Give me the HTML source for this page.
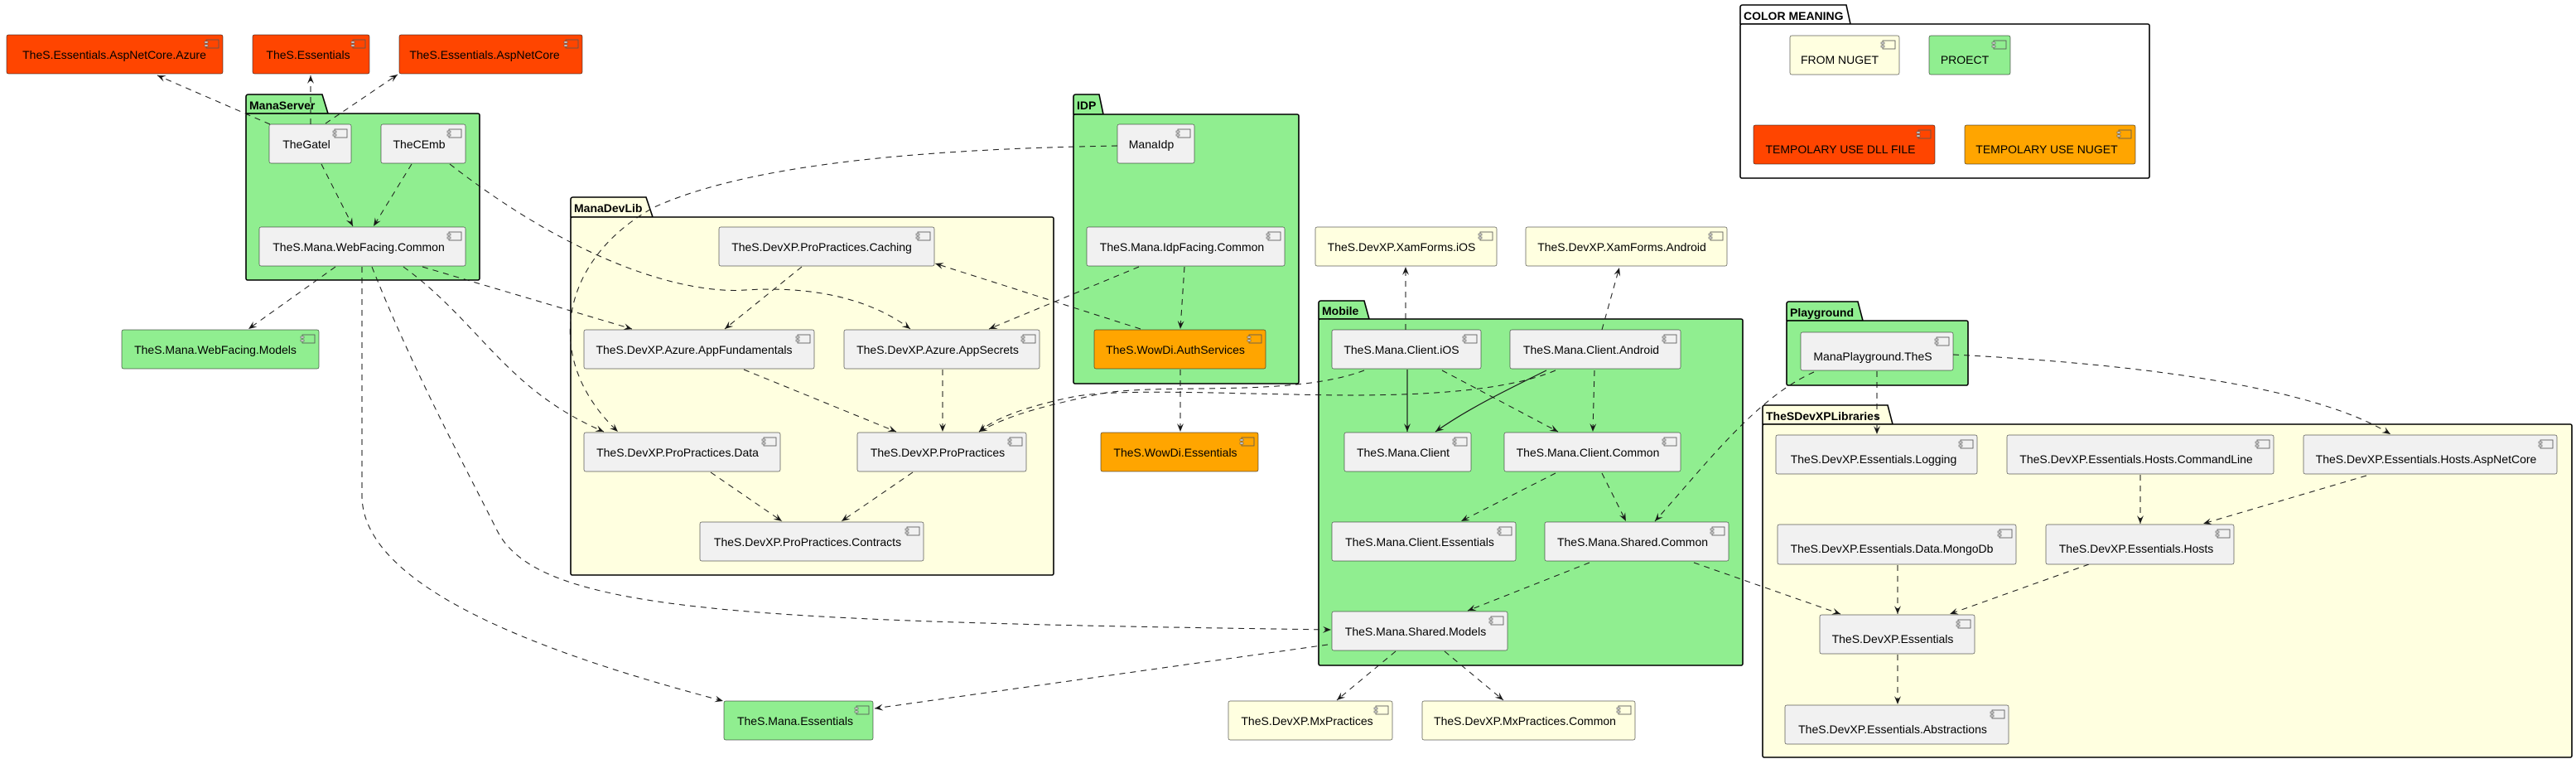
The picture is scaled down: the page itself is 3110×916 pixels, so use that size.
<!DOCTYPE html>
<html><head><meta charset="utf-8"><style>
html,body{margin:0;padding:0;background:#fff;}
svg{display:block;}
text{font-family:"Liberation Sans",Arial,sans-serif;font-size:14px;fill:#000;}
.t{font-weight:bold;font-size:14px;}
.e{fill:none;stroke:#181818;stroke-width:1;stroke-dasharray:7,6;marker-end:url(#ah);}
.s{fill:none;stroke:#181818;stroke-width:1.2;marker-end:url(#ah);}
.c{stroke:#181818;stroke-width:0.5;}
.pk{stroke:#000;stroke-width:1.6;}
</style></head><body>
<svg width="3110" height="916" viewBox="0 0 3110 916" xmlns="http://www.w3.org/2000/svg">
<defs>
<marker id="ah" markerWidth="12" markerHeight="10" refX="10" refY="5" orient="auto" markerUnits="userSpaceOnUse">
<polygon points="0,1 10,5 0,9 4,5" fill="#181818"/>
</marker>
<g id="ic"><rect x="0" y="0" width="15" height="10" fill="none" stroke="#555" stroke-width="0.8"/><rect x="-2" y="2" width="4" height="2" fill="#eee" stroke="#555" stroke-width="0.6"/><rect x="-2" y="6" width="4" height="2" fill="#eee" stroke="#555" stroke-width="0.6"/></g>
</defs>

<!-- packages -->
<g>
<path class="pk" fill="#90EE90" d="M297,137 V117 Q297,114 300,114 H389 L396,137 Z"/>
<rect class="pk" x="297" y="137" width="282" height="201" rx="2" fill="#90EE90"/>
<text class="t" x="301" y="132">ManaServer</text>

<path class="pk" fill="#FFFFE0" d="M689,262 V241 Q689,238 692,238 H780 L788,262 Z"/>
<rect class="pk" x="689" y="262" width="583" height="432" rx="2" fill="#FFFFE0"/>
<text class="t" x="693" y="256">ManaDevLib</text>

<path class="pk" fill="#90EE90" d="M1296,138 V117 Q1296,114 1299,114 H1327 L1332,138 Z"/>
<rect class="pk" x="1296" y="138" width="272" height="325" rx="2" fill="#90EE90"/>
<text class="t" x="1300" y="132">IDP</text>

<path class="pk" fill="#90EE90" d="M1592,385 V366 Q1592,363 1595,363 H1647 L1653,385 Z"/>
<rect class="pk" x="1592" y="385" width="512" height="418" rx="2" fill="#90EE90"/>
<text class="t" x="1596" y="380">Mobile</text>

<path class="pk" fill="#fff" d="M2101,29 V9 Q2101,6 2104,6 H2229 L2234,29 Z"/>
<rect class="pk" x="2101" y="29" width="494" height="186" rx="2" fill="#fff"/>
<text class="t" x="2105" y="24">COLOR MEANING</text>

<path class="pk" fill="#90EE90" d="M2157,387 V367 Q2157,364 2160,364 H2243 L2249,387 Z"/>
<rect class="pk" x="2157" y="387" width="219" height="78" rx="2" fill="#90EE90"/>
<text class="t" x="2161" y="382">Playground</text>

<path class="pk" fill="#FFFFE0" d="M2128,512 V492 Q2128,489 2131,489 H2279 L2285,512 Z"/>
<rect class="pk" x="2128" y="512" width="977" height="402" rx="2" fill="#FFFFE0"/>
<text class="t" x="2132" y="507">TheSDevXPLibraries</text>
</g>

<!-- edges -->
<g>
<path class="e" d="M326,150 L190,91"/>
<path class="e" d="M375,150 L375,91"/>
<path class="e" d="M393,149 L480,90"/>
<path class="e" d="M388,198 L426,273"/>
<path class="e" d="M497,198 L451,273"/>
<path class="e" d="M543,198 C700,320 830,355 900,350 C980,345 1050,360 1099,397"/>
<path class="e" d="M1349,176 C1100,180 900,200 790,250 C680,310 650,430 746,521"/>
<path class="e" d="M405,322 L300,397"/>
<path class="e" d="M437,322 L437,600 C440,720 700,800 873,846"/>
<path class="e" d="M449,322 C500,450 560,560 600,640 C650,740 900,750 1607,760"/>
<path class="e" d="M487,322 C580,390 610,470 729,521"/>
<path class="e" d="M510,322 L763,397"/>
<path class="e" d="M968,322 L875,397"/>
<path class="e" d="M1377,397 L1129,318"/>
<path class="e" d="M1375,322 L1194,397"/>
<path class="e" d="M1430,322 L1425,397"/>
<path class="e" d="M898,446 L1082,521"/>
<path class="e" d="M1138,446 L1138,521"/>
<path class="e" d="M858,570 L944,629"/>
<path class="e" d="M1102,570 L1016,629"/>
<path class="e" d="M1425,446 L1425,521"/>
<path class="e" d="M1647,447 C1560,480 1400,462 1330,475 C1260,490 1220,500 1182,521"/>
<path class="e" d="M1878,447 C1800,480 1650,478 1560,476 C1450,474 1350,470 1300,478 C1240,490 1200,505 1182,521"/>
<path class="e" d="M1603,778 L1056,855"/>
<path class="e" d="M1685,786 L1614,845"/>
<path class="e" d="M1744,786 L1815,845"/>
<path class="e" d="M1697,398 L1697,322"/>
<path class="e" d="M1934,398 L1955,323"/>
<path class="s" d="M1699,446 L1699,521"/>
<path class="s" d="M1867,447 C1810,475 1770,495 1733,521"/>
<path class="e" d="M1741,447 L1881,521"/>
<path class="e" d="M1925,447 L1923,521"/>
<path class="e" d="M1878,571 L1764,629"/>
<path class="e" d="M1934,571 L1963,629"/>
<path class="e" d="M2190,449 C2120,480 2060,560 1998,629"/>
<path class="e" d="M1919,679 L1772,737"/>
<path class="e" d="M2045,679 L2222,741"/>
<path class="e" d="M2266,448 L2266,524"/>
<path class="e" d="M2358,428 C2600,440 2800,470 2886,524"/>
<path class="e" d="M2584,573 L2584,632"/>
<path class="e" d="M2857,574 L2660,632"/>
<path class="e" d="M2291,682 L2291,741"/>
<path class="e" d="M2522,681 L2354,741"/>
<path class="e" d="M2291,790 L2291,850"/>
</g>

<!-- components -->
<g>
<rect class="c" x="8" y="42" width="261" height="47" rx="2" fill="#FF4500" stroke="#b03000"/><use href="#ic" x="249" y="48"/><text x="138" y="71" text-anchor="middle">TheS.Essentials.AspNetCore.Azure</text>
<rect class="c" x="305" y="42" width="141" height="47" rx="2" fill="#FF4500"/><use href="#ic" x="426" y="48"/><text x="372" y="71" text-anchor="middle">TheS.Essentials</text>
<rect class="c" x="482" y="42" width="221" height="47" rx="2" fill="#FF4500"/><use href="#ic" x="683" y="48"/><text x="585" y="71" text-anchor="middle">TheS.Essentials.AspNetCore</text>

<rect class="c" x="325" y="150" width="99" height="47" rx="2" fill="#F1F1F1"/><use href="#ic" x="404" y="156"/><text x="370" y="179" text-anchor="middle">TheGatel</text>
<rect class="c" x="460" y="150" width="102" height="47" rx="2" fill="#F1F1F1"/><use href="#ic" x="542" y="156"/><text x="506" y="179" text-anchor="middle">TheCEmb</text>
<rect class="c" x="313" y="274" width="249" height="47" rx="2" fill="#F1F1F1"/><use href="#ic" x="542" y="280"/><text x="433" y="303" text-anchor="middle">TheS.Mana.WebFacing.Common</text>
<rect class="c" x="147" y="398" width="238" height="47" rx="2" fill="#90EE90"/><use href="#ic" x="365" y="404"/><text x="260" y="427" text-anchor="middle">TheS.Mana.WebFacing.Models</text>

<rect class="c" x="868" y="274" width="260" height="47" rx="2" fill="#F1F1F1"/><use href="#ic" x="1108" y="280"/><text x="992" y="303" text-anchor="middle">TheS.DevXP.ProPractices.Caching</text>
<rect class="c" x="705" y="398" width="278" height="47" rx="2" fill="#F1F1F1"/><use href="#ic" x="963" y="404"/><text x="838" y="427" text-anchor="middle">TheS.DevXP.Azure.AppFundamentals</text>
<rect class="c" x="1019" y="398" width="236" height="47" rx="2" fill="#F1F1F1"/><use href="#ic" x="1235" y="404"/><text x="1132" y="427" text-anchor="middle">TheS.DevXP.Azure.AppSecrets</text>
<rect class="c" x="705" y="522" width="237" height="47" rx="2" fill="#F1F1F1"/><use href="#ic" x="922" y="528"/><text x="818" y="551" text-anchor="middle">TheS.DevXP.ProPractices.Data</text>
<rect class="c" x="1035" y="522" width="204" height="47" rx="2" fill="#F1F1F1"/><use href="#ic" x="1219" y="528"/><text x="1132" y="551" text-anchor="middle">TheS.DevXP.ProPractices</text>
<rect class="c" x="845" y="630" width="270" height="47" rx="2" fill="#F1F1F1"/><use href="#ic" x="1095" y="636"/><text x="975" y="659" text-anchor="middle">TheS.DevXP.ProPractices.Contracts</text>

<rect class="c" x="1349" y="150" width="93" height="47" rx="2" fill="#F1F1F1"/><use href="#ic" x="1422" y="156"/><text x="1390" y="179" text-anchor="middle">ManaIdp</text>
<rect class="c" x="1312" y="274" width="239" height="47" rx="2" fill="#F1F1F1"/><use href="#ic" x="1531" y="280"/><text x="1427" y="303" text-anchor="middle">TheS.Mana.IdpFacing.Common</text>
<rect class="c" x="1321" y="398" width="207" height="47" rx="2" fill="#FFA500" stroke="#a06800"/><use href="#ic" x="1508" y="404"/><text x="1419" y="427" text-anchor="middle">TheS.WowDi.AuthServices</text>
<rect class="c" x="1329" y="522" width="190" height="47" rx="2" fill="#FFA500"/><use href="#ic" x="1499" y="528"/><text x="1419" y="551" text-anchor="middle">TheS.WowDi.Essentials</text>

<rect class="c" x="1588" y="274" width="219" height="47" rx="2" fill="#FFFFE0"/><use href="#ic" x="1787" y="280"/><text x="1692" y="303" text-anchor="middle">TheS.DevXP.XamForms.iOS</text>
<rect class="c" x="1842" y="274" width="243" height="47" rx="2" fill="#FFFFE0"/><use href="#ic" x="2065" y="280"/><text x="1958" y="303" text-anchor="middle">TheS.DevXP.XamForms.Android</text>
<rect class="c" x="1608" y="398" width="180" height="47" rx="2" fill="#F1F1F1"/><use href="#ic" x="1768" y="404"/><text x="1692" y="427" text-anchor="middle">TheS.Mana.Client.iOS</text>
<rect class="c" x="1823" y="398" width="206" height="47" rx="2" fill="#F1F1F1"/><use href="#ic" x="2009" y="404"/><text x="1921" y="427" text-anchor="middle">TheS.Mana.Client.Android</text>
<rect class="c" x="1623" y="522" width="153" height="47" rx="2" fill="#F1F1F1"/><use href="#ic" x="1756" y="528"/><text x="1694" y="551" text-anchor="middle">TheS.Mana.Client</text>
<rect class="c" x="1816" y="522" width="213" height="47" rx="2" fill="#F1F1F1"/><use href="#ic" x="2009" y="528"/><text x="1917" y="551" text-anchor="middle">TheS.Mana.Client.Common</text>
<rect class="c" x="1608" y="630" width="222" height="47" rx="2" fill="#F1F1F1"/><use href="#ic" x="1810" y="636"/><text x="1714" y="659" text-anchor="middle">TheS.Mana.Client.Essentials</text>
<rect class="c" x="1865" y="630" width="222" height="47" rx="2" fill="#F1F1F1"/><use href="#ic" x="2067" y="636"/><text x="1971" y="659" text-anchor="middle">TheS.Mana.Shared.Common</text>
<rect class="c" x="1608" y="738" width="212" height="47" rx="2" fill="#F1F1F1"/><use href="#ic" x="1800" y="744"/><text x="1709" y="767" text-anchor="middle">TheS.Mana.Shared.Models</text>

<rect class="c" x="874" y="846" width="180" height="47" rx="2" fill="#90EE90"/><use href="#ic" x="1034" y="852"/><text x="960" y="875" text-anchor="middle">TheS.Mana.Essentials</text>
<rect class="c" x="1483" y="846" width="198" height="47" rx="2" fill="#FFFFE0"/><use href="#ic" x="1661" y="852"/><text x="1578" y="875" text-anchor="middle">TheS.DevXP.MxPractices</text>
<rect class="c" x="1717" y="846" width="257" height="47" rx="2" fill="#FFFFE0"/><use href="#ic" x="1954" y="852"/><text x="1841" y="875" text-anchor="middle">TheS.DevXP.MxPractices.Common</text>

<rect class="c" x="2161" y="43" width="132" height="47" rx="2" fill="#FFFFE0"/><use href="#ic" x="2273" y="49"/><text x="2221" y="77" text-anchor="middle">FROM NUGET</text>
<rect class="c" x="2329" y="43" width="98" height="47" rx="2" fill="#90EE90"/><use href="#ic" x="2407" y="49"/><text x="2372" y="77" text-anchor="middle">PROECT</text>
<rect class="c" x="2117" y="151" width="219" height="47" rx="2" fill="#FF4500"/><use href="#ic" x="2316" y="157"/><text x="2222" y="185" text-anchor="middle">TEMPOLARY USE DLL FILE</text>
<rect class="c" x="2372" y="151" width="206" height="47" rx="2" fill="#FFA500"/><use href="#ic" x="2558" y="157"/><text x="2471" y="185" text-anchor="middle">TEMPOLARY USE NUGET</text>

<rect class="c" x="2174" y="401" width="184" height="46" rx="2" fill="#F1F1F1"/><use href="#ic" x="2338" y="407"/><text x="2261" y="435" text-anchor="middle">ManaPlayground.TheS</text>
<rect class="c" x="2144" y="525" width="243" height="47" rx="2" fill="#F1F1F1"/><use href="#ic" x="2367" y="531"/><text x="2262" y="559" text-anchor="middle">TheS.DevXP.Essentials.Logging</text>
<rect class="c" x="2423" y="525" width="322" height="47" rx="2" fill="#F1F1F1"/><use href="#ic" x="2725" y="531"/><text x="2579" y="559" text-anchor="middle">TheS.DevXP.Essentials.Hosts.CommandLine</text>
<rect class="c" x="2781" y="525" width="306" height="47" rx="2" fill="#F1F1F1"/><use href="#ic" x="3067" y="531"/><text x="2929" y="559" text-anchor="middle">TheS.DevXP.Essentials.Hosts.AspNetCore</text>
<rect class="c" x="2146" y="633" width="288" height="48" rx="2" fill="#F1F1F1"/><use href="#ic" x="2414" y="639"/><text x="2284" y="667" text-anchor="middle">TheS.DevXP.Essentials.Data.MongoDb</text>
<rect class="c" x="2470" y="633" width="227" height="48" rx="2" fill="#F1F1F1"/><use href="#ic" x="2677" y="639"/><text x="2579" y="667" text-anchor="middle">TheS.DevXP.Essentials.Hosts</text>
<rect class="c" x="2197" y="742" width="187" height="47" rx="2" fill="#F1F1F1"/><use href="#ic" x="2364" y="748"/><text x="2285" y="776" text-anchor="middle">TheS.DevXP.Essentials</text>
<rect class="c" x="2155" y="851" width="270" height="47" rx="2" fill="#F1F1F1"/><use href="#ic" x="2405" y="857"/><text x="2285" y="885" text-anchor="middle">TheS.DevXP.Essentials.Abstractions</text>
</g>
</svg>
</body></html>
